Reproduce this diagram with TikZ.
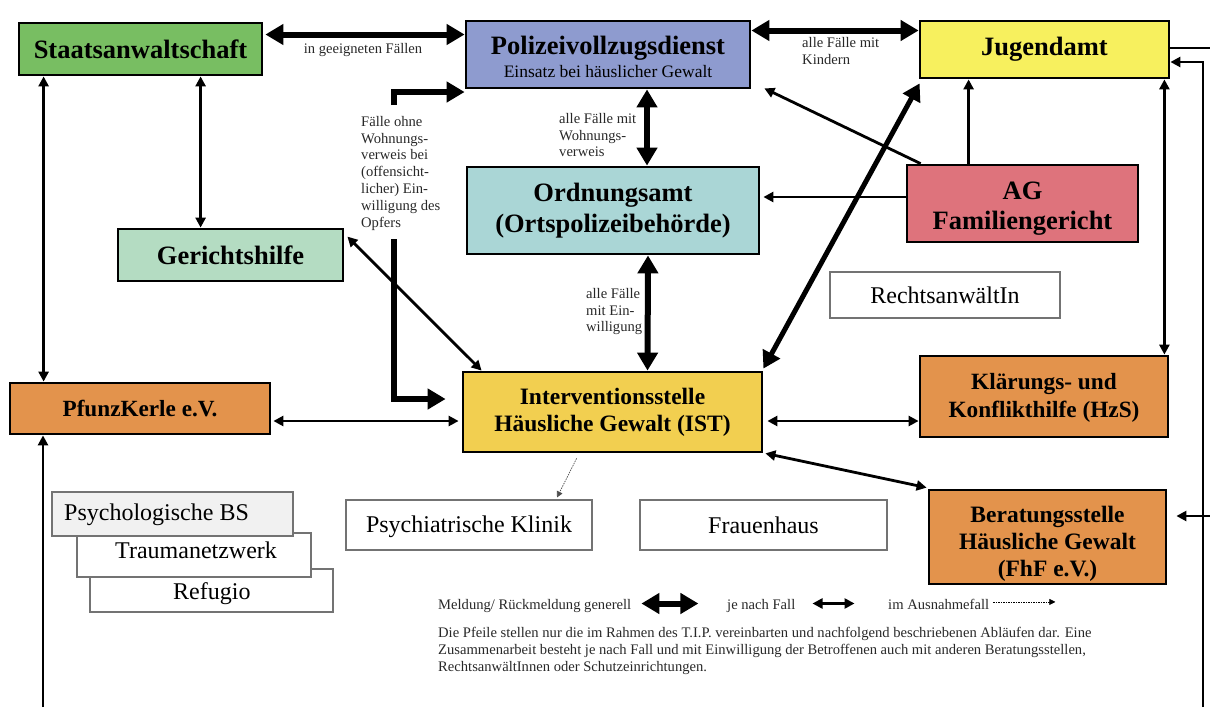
\documentclass[tikz,border=0pt]{standalone}
\usepackage{fontspec}
\setmainfont{Liberation Serif}
\usetikzlibrary{arrows.meta,calc}
\definecolor{cSta}{RGB}{120,190,98}
\definecolor{cPol}{RGB}{142,155,207}
\definecolor{cJug}{RGB}{247,240,94}
\definecolor{cOrd}{RGB}{170,214,214}
\definecolor{cAG}{RGB}{222,115,124}
\definecolor{cGer}{RGB}{180,220,194}
\definecolor{cOra}{RGB}{227,147,76}
\definecolor{cIST}{RGB}{242,207,80}
\definecolor{cPsy}{RGB}{241,241,241}
\definecolor{cTxt}{RGB}{40,40,40}
\newcommand{\fsz}[2]{\fontsize{#1pt}{#2pt}\selectfont}
\begin{document}
\begin{tikzpicture}[x=1pt,y=-1pt,
  box/.style={draw=black, line width=2.8pt, inner sep=0pt, align=center},
  wbox/.style={draw=black!55, line width=1.1pt, fill=white, inner sep=0pt, align=center, font=\fsz{24}{28}},
  big/.style={line width=6pt, {Triangle[length=18pt,width=20pt]}-{Triangle[length=18pt,width=20pt]}},
  bigto/.style={line width=6pt, -{Triangle[length=18pt,width=20pt]}},
  dbl/.style={line width=2.8pt, {Triangle[length=10pt,width=10pt]}-{Triangle[length=10pt,width=10pt]}},
  one/.style={line width=2.8pt, -{Triangle[length=10pt,width=10pt]}},
  dotarrow/.style={line width=0.7pt, dash pattern=on 1.5pt off 1pt, -{Triangle[length=6pt,width=6pt]}},
  lbl/.style={inner sep=0pt, align=left, font=\fsz{14.6}{16.8}, text=cTxt}
]
\useasboundingbox (0,0) rectangle (1210,707);

% boxes
\node[box, fill=cSta, minimum width=243pt, minimum height=52pt, font=\fsz{26.5}{31}\bfseries] (sta) at (140.5,49) {Staatsanwaltschaft};
\node[box, fill=cPol, minimum width=284pt, minimum height=67pt, font=\fsz{17.5}{23}] (pol) at (608,54.5) {{\fsz{26.5}{31}\bfseries\rule{0pt}{23pt}Polizeivollzugsdienst}\\Einsatz bei häuslicher Gewalt};
\node[box, fill=cJug, minimum width=249pt, minimum height=57pt, font=\fsz{26.5}{31}\bfseries] (jug) at (1044.5,49.5) {Jugendamt};
\node[box, fill=cOrd, minimum width=292pt, minimum height=87pt, font=\fsz{26.5}{31}\bfseries] (ord) at (613,210.5) {Ordnungsamt\\(Ortspolizeibehörde)};
\node[box, fill=cAG, minimum width=231pt, minimum height=77pt, font=\fsz{26.5}{30}\bfseries] (ag) at (1022.5,203.5) {\rule{0pt}{28pt}AG\\Familiengericht};
\node[box, fill=cGer, minimum width=225pt, minimum height=52pt, font=\fsz{26.5}{31}\bfseries] (ger) at (230.5,255) {\rule{0pt}{14pt}Gerichtshilfe};
\node[wbox, minimum width=230pt, minimum height=46pt] (ra) at (945,295) {RechtsanwältIn};
\node[box, fill=cOra, minimum width=260pt, minimum height=51pt, font=\fsz{23.2}{27}\bfseries] (pfu) at (140,408.5) {PfunzKerle e.V.};
\node[box, fill=cIST, minimum width=299pt, minimum height=80pt, font=\fsz{23.5}{27}\bfseries] (ist) at (612.5,412) {Interventionsstelle\\Häusliche Gewalt (IST)};
\node[box, fill=cOra, minimum width=248pt, minimum height=81pt, font=\fsz{23.3}{28}\bfseries] (kla) at (1044,396.5) {\rule{0pt}{19pt}Klärungs- und\\Konflikthilfe (HzS)};
\node[box, fill=cOra, minimum width=237pt, minimum height=94pt, font=\fsz{23.5}{27}\bfseries] (ber) at (1047.5,537) {\rule{0pt}{30pt}Beratungsstelle\\Häusliche Gewalt\\(FhF e.V.)};
\node[wbox, minimum width=243pt, minimum height=43pt] (ref) at (211.5,590.5) {};
\node[wbox, minimum width=234pt, minimum height=44pt] (tra) at (194,555) {};
\node[wbox, fill=cPsy, minimum width=241pt, minimum height=44pt] (psy) at (172.5,514) {};
\node[font=\fsz{24}{28}, anchor=base west, inner sep=0pt] (reft) at (173,599) {Refugio};
\node[font=\fsz{24}{28}, anchor=base west, inner sep=0pt] (trat) at (115,558) {Traumanetzwerk};
\node[font=\fsz{24}{28}, anchor=base west, inner sep=0pt] (psyt) at (64,520) {Psychologische BS};
\node[wbox, minimum width=246pt, minimum height=50pt] (psk) at (469,525) {\rule{0pt}{20pt}Psychiatrische Klinik};
\node[wbox, minimum width=247pt, minimum height=50pt] (frau) at (763.5,525) {Frauenhaus};

% free ends
\coordinate (fo1) at (394,105);
\coordinate (fo2) at (394,239);
\coordinate (bl) at (43,707);
\coordinate (r1) at (1210,48);
\coordinate (r2) at (1203,707);
\coordinate (r3) at (1210,516);

% thick arrows
\draw[big] ($(sta.east)+(2,-14.5)$) -- ($(pol.west)+(0,-20)$);
\draw[big] ($(pol.east)+(0,-24)$) -- ($(jug.west)+(0,-19)$);
\draw[big] ($(pol.south)+(39,0)$) -- ($(ord.north)+(34,0)$);
\draw[big] ($(ord.south)+(35,0)$) -- ($(ist.north)+(35,0)$);
\draw[bigto] (fo1) |- ($(pol.west)+(0,37.5)$);
\draw[bigto] (fo2) |- ($(ist.west)+(-16,-13)$);
\draw[line width=5pt, {Triangle[length=17pt,width=19pt]}-{Triangle[length=17pt,width=19pt]}] ($(ist.north east)+(0,-2)$) -- ($(jug.south west)+(1,4)$);

% normal arrows
\draw[dbl] ($(sta.south west)+(26,0)$) -- ($(pfu.north west)+(35,0)$);
\draw[dbl] ($(sta.south west)+(183,0)$) -- ($(ger.north west)+(84,0)$);
\draw[dbl] ($(ger.north east)+(3,9)$) -- ($(ist.north west)+(20,0)$);
\draw[dbl] ($(pfu.east)+(2,12.5)$) -- ($(ist.west)+(-3,9)$);
\draw[one] (bl) -- (pfu.south -| bl);
\draw[one] ($(ag.north west)+(15,0)$) -- ($(pol.south east)+(13,-1)$);
\draw[one] ($(ag.west)+(0,-6.5)$) -- ($(ord.east)+(3,-13.5)$);
\draw[one] ($(ag.north west)+(63,0)$) -- ($(jug.south west)+(50,0)$);
\draw[dbl] ($(jug.south east)+(-6,0)$) -- ($(kla.north east)+(-5,0)$);
\draw[dbl] ($(ist.east)+(4,9)$) -- ($(kla.west)+(0,24.5)$);
\draw[dbl] ($(ist.south east)+(2,0)$) -- ($(ber.north west)+(-1,-1)$);
\draw[dotarrow, draw=black!70] ($(ist.south west)+(115,5)$) -- ($(psk.north)+(88,-2)$);
\draw[line width=2.8pt] ($(jug.east)+(0,-1.5)$) -- (r1);
\draw[one] (r2) |- ($(jug.east)+(0,12.5)$);
\draw[one] (r3) -- ($(ber.east |- r3)+(9,0)$);

% labels
\node[lbl, anchor=base] (l1) at (363,53) {in geeigneten Fällen};
\node[lbl, anchor=north west] (l2) at (802,37) {alle Fälle mit\\Kindern};
\node[lbl, anchor=north west] (l3) at (361,116) {Fälle ohne\\Wohnungs-\\verweis bei\\(offensicht-\\licher) Ein-\\willigung des\\Opfers};
\node[lbl, anchor=north west] (l4) at (559,113) {alle Fälle mit\\Wohnungs-\\verweis};
\node[lbl, anchor=north west] (l5) at (586,288) {alle Fälle\\mit Ein-\\willigung};

% legend
\node[lbl, anchor=base west] (lg1) at (438,609) {Meldung/ Rückmeldung generell};
\draw[big] ($(lg1.east)+(10,-2)$) -- ++(57,0);
\node[lbl, anchor=base west] (lg2) at (727,609) {je nach Fall};
\draw[dbl] ($(lg2.east)+(17,-2)$) -- ++(42,0);
\node[lbl, anchor=base west] (lg3) at (888,609) {im Ausnahmefall};
\draw[dotarrow] ($(lg3.east)+(4,-2)$) -- ++(62,0);
\node[lbl, anchor=base west] (p1) at (438,637) {Die Pfeile stellen nur die im Rahmen des T.I.P. vereinbarten und nachfolgend beschriebenen Abläufen dar. Eine};
\node[lbl, anchor=base west] (p2) at (438,654) {Zusammenarbeit besteht je nach Fall und mit Einwilligung der Betroffenen auch mit anderen Beratungsstellen,};
\node[lbl, anchor=base west] (p3) at (438,671) {RechtsanwältInnen oder Schutzeinrichtungen.};
\end{tikzpicture}
\end{document}
